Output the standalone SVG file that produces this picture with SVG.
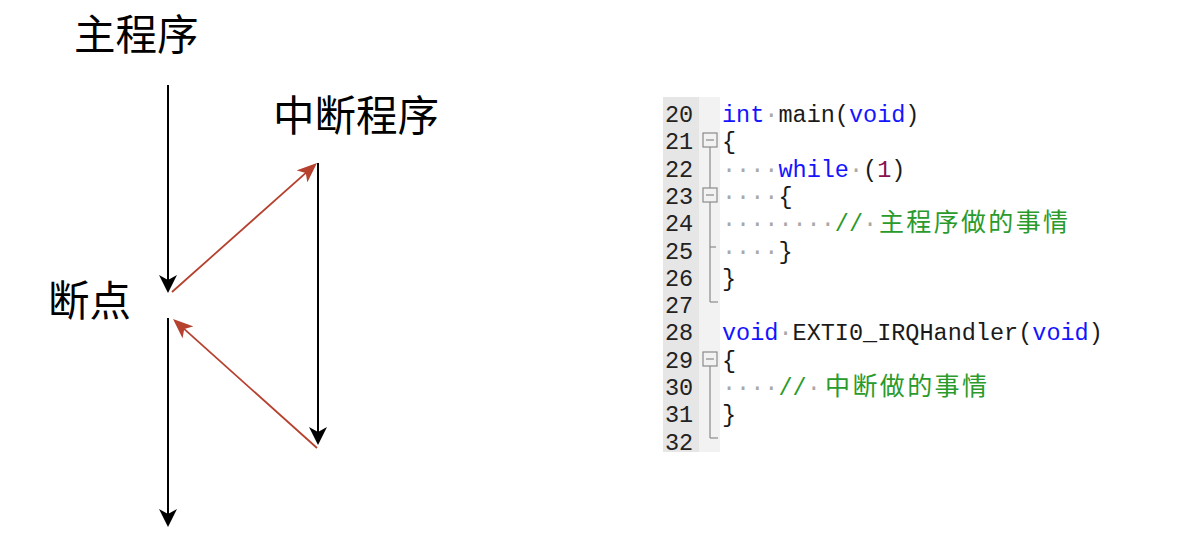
<svg xmlns="http://www.w3.org/2000/svg" width="1191" height="552" viewBox="0 0 1191 552">
<style>
.lbl{font-family:"Noto Sans CJK SC","Noto Sans",sans-serif;font-size:41.5px;fill:#000}
.code{font-family:"Liberation Mono","DejaVu Sans Mono",monospace;font-size:23.5px;fill:#1a1a1a}
.num{font-family:"Liberation Mono","DejaVu Sans Mono",monospace;font-size:23.5px;fill:#222}
.kw{fill:#1414ff}
.dot{fill:#a8a8a8}
.nm{fill:#8b1050}
.cm{fill:#2a9a2a}
.cjk{font-family:"Noto Sans CJK SC",sans-serif;font-size:25px;fill:#2a9a2a}
.blk{stroke:#000;stroke-width:2;fill:none}
.red{stroke:#b5412e;stroke-width:1.8;fill:none}
.fold{stroke:#8a8a8a;stroke-width:1.2;fill:none}
</style>
<defs>
<marker id="ab" viewBox="0 0 18 18" markerWidth="18" markerHeight="18" refX="14" refY="9" orient="auto" markerUnits="userSpaceOnUse">
<path d="M0,0 L18,9 L0,18 L5,9 z" fill="#000"/>
</marker>
<marker id="ar" viewBox="0 0 20 16" markerWidth="20" markerHeight="16" refX="16" refY="8" orient="auto" markerUnits="userSpaceOnUse">
<path d="M0,0 L20,8 L0,16 L5,8 z" fill="#b5412e"/>
</marker>
</defs>
<g id="label-main"><text class="lbl" x="74" y="50">主程序</text></g>
<g id="label-isr"><text class="lbl" x="273" y="131">中断程序</text></g>
<g id="label-break"><text class="lbl" x="48" y="316">断点</text></g>
<g id="connectors">
<line class="blk" x1="168" y1="85" x2="168" y2="289" marker-end="url(#ab)"/>
<line class="blk" x1="168" y1="318" x2="168" y2="523" marker-end="url(#ab)"/>
<line class="blk" x1="318" y1="163" x2="318" y2="441" marker-end="url(#ab)"/>
<line class="red" x1="172" y1="292" x2="314" y2="165.7" marker-end="url(#ar)"/>
<line class="red" x1="317" y1="448" x2="176" y2="321.7" marker-end="url(#ar)"/>
</g>
<g id="code-panel">
<rect x="663" y="97" width="36" height="355" fill="#e6e6e6"/>
<rect x="699" y="97" width="21" height="355" fill="#f2f2f2"/>
<g class="num">
<text x="665" y="122">20</text>
<text x="665" y="149.3">21</text>
<text x="665" y="176.6">22</text>
<text x="665" y="203.9">23</text>
<text x="665" y="231.2">24</text>
<text x="665" y="258.5">25</text>
<text x="665" y="285.8">26</text>
<text x="665" y="313.1">27</text>
<text x="665" y="340.4">28</text>
<text x="665" y="367.7">29</text>
<text x="665" y="395">30</text>
<text x="665" y="422.3">31</text>
<text x="665" y="449.6">32</text>
</g>
<g id="folds">
<rect x="703" y="133" width="14" height="14" fill="#fff" class="fold"/>
<line x1="706" y1="140" x2="714" y2="140" class="fold"/>
<line x1="710" y1="147" x2="710" y2="188" class="fold"/>
<rect x="703" y="188" width="14" height="14" fill="#fff" class="fold"/>
<line x1="706" y1="195" x2="714" y2="195" class="fold"/>
<line x1="710" y1="202" x2="710" y2="302" class="fold"/>
<line x1="710" y1="247" x2="716" y2="247" class="fold"/>
<line x1="710" y1="302" x2="718" y2="302" class="fold"/>
<rect x="703" y="352" width="14" height="14" fill="#fff" class="fold"/>
<line x1="706" y1="359" x2="714" y2="359" class="fold"/>
<line x1="710" y1="366" x2="710" y2="438" class="fold"/>
<line x1="710" y1="438" x2="718" y2="438" class="fold"/>
</g>
<g class="code">
<text x="722" y="122"><tspan class="kw">int</tspan><tspan class="dot">·</tspan>main(<tspan class="kw">void</tspan>)</text>
<text x="722" y="149.3">{</text>
<text x="722" y="176.6"><tspan class="dot">····</tspan><tspan class="kw">while</tspan><tspan class="dot">·</tspan>(<tspan class="nm">1</tspan>)</text>
<text x="722" y="203.9"><tspan class="dot">····</tspan>{</text>
<text x="722" y="231.2"><tspan class="dot">········</tspan><tspan class="cm">//</tspan><tspan class="dot">·</tspan></text>
<text x="722" y="258.5"><tspan class="dot">····</tspan>}</text>
<text x="722" y="285.8">}</text>
<text x="722" y="340.4"><tspan class="kw">void</tspan><tspan class="dot">·</tspan>EXTI0_IRQHandler(<tspan class="kw">void</tspan>)</text>
<text x="722" y="367.7">{</text>
<text x="722" y="395"><tspan class="dot">····</tspan><tspan class="cm">//</tspan><tspan class="dot">·</tspan></text>
<text x="722" y="422.3">}</text>
</g>
<text class="cjk" x="879" y="231" textLength="189" lengthAdjust="spacing">主程序做的事情</text>
<text class="cjk" x="825" y="395" textLength="162" lengthAdjust="spacing">中断做的事情</text>
</g>
</svg>
